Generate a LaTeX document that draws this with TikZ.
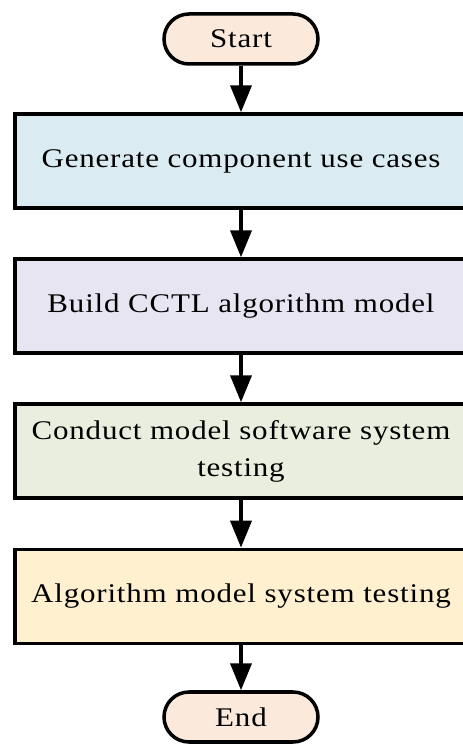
\documentclass[tikz,border=0pt]{standalone}
\usepackage{fontspec}
\setmainfont{Liberation Serif}[FakeStretch=1.15,LetterSpace=3]
\usetikzlibrary{arrows.meta,positioning}
\definecolor{termfill}{RGB}{251,233,220}
\definecolor{genfill}{RGB}{218,235,241}
\definecolor{buildfill}{RGB}{232,229,243}
\definecolor{conductfill}{RGB}{233,238,222}
\definecolor{algofill}{RGB}{255,240,208}

\begin{document}
\begin{tikzpicture}[font=\fontsize{23}{31.5}\selectfont,>={Triangle[length=23pt,width=18pt]},term/.style={draw,line width=3pt,rounded corners=.75cm,minimum width=4.62cm,minimum height=1.5cm,fill=termfill},stage/.style={draw,line width=3pt,minimum width=13.56cm,minimum height=2.82cm,align=center}]
\useasboundingbox (0,0) rectangle (13.86,22.35);
\node[term] (start) at (7.23,21.18) {Start};
\node[stage,fill=genfill] (gen) at (7.23,17.52) {Generate component use cases};
\node[stage,fill=buildfill] (build) at (7.23,13.17) {Build CCTL algorithm model};
\node[stage,fill=conductfill] (conduct) at (7.23,8.82) {Conduct model software system\\testing};
\node[stage,fill=algofill] (algo) at (7.23,4.46) {Algorithm model system testing};
\node[term] (end) at (7.23,.84) {End};
\draw[line width=3pt,->] (start)--(gen);
\draw[line width=3pt,->] (gen)--(build);
\draw[line width=3pt,->] (build)--(conduct);
\draw[line width=3pt,->] (conduct)--(algo);
\draw[line width=3pt,->] (algo)--(end);
\end{tikzpicture}
\end{document}
